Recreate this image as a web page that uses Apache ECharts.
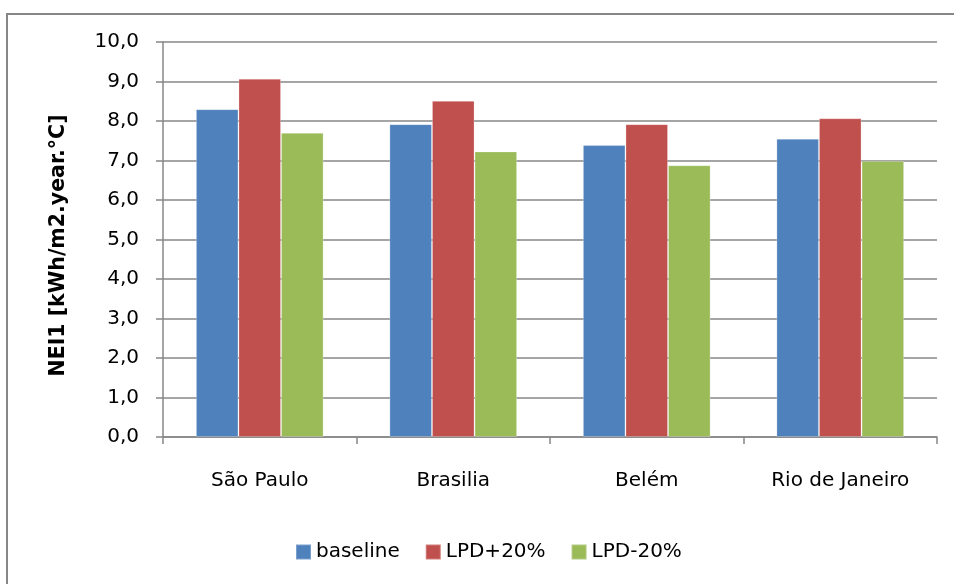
<!DOCTYPE html>
<html>
<head>
<meta charset="utf-8">
<script src="https://cdn.jsdelivr.net/npm/echarts@6/dist/echarts.min.js"></script>
<style>
  html, body { margin: 0; padding: 0; background: #fff; }
  #chart { width: 954px; height: 584px; }
</style>
</head>
<body>
<div id="chart"></div>
<script>
// Cities on the category axis
const cities = ['São Paulo', 'Brasilia', 'Belém', 'Rio de Janeiro'];

// NEI1 per lighting-power-density scenario
const baseline = [8.30, 7.92, 7.39, 7.55];
const lpdPlus20 = [9.07, 8.51, 7.92, 8.07];
const lpdMinus20 = [7.70, 7.23, 6.88, 6.99];

const seriesNames = ['baseline', 'LPD+20%', 'LPD-20%'];
const seriesColors = ['#4F81BD', '#C0504D', '#9BBB59'];
const seriesData = [baseline, lpdPlus20, lpdMinus20];

const yMin = 0, yMax = 10, yStep = 1;
const yAxisTitle = 'NEI1 [kWh/m2.year.°C]';

const FONT = 'DejaVu Sans';
const GREY = '#878787';

const chart = echarts.init(document.getElementById('chart'), null, { renderer: 'canvas' });

chart.setOption({
  backgroundColor: '#ffffff',
  animation: false,
  textStyle: { fontFamily: FONT },
  graphic: [{
    type: 'rect',
    shape: { x: 7, y: 14, width: 1000, height: 1000 },
    style: { fill: 'none', stroke: GREY, lineWidth: 2 },
    silent: true
  }],
  grid: { left: 163, right: 17, top: 42, bottom: 147, containLabel: false },
  legend: {
    left: 290,
    top: 537,
    itemWidth: 15,
    itemHeight: 15,
    itemGap: 25,
    icon: 'rect',
    textStyle: { fontFamily: FONT, fontSize: 20, color: '#000' },
    data: seriesNames
  },
  xAxis: {
    type: 'category',
    data: cities,
    boundaryGap: true,
    axisLine: { lineStyle: { color: GREY, width: 1.5 } },
    axisTick: { show: true, alignWithLabel: false, length: 7, lineStyle: { color: GREY, width: 1.5 } },
    axisLabel: { color: '#000', fontFamily: FONT, fontSize: 20, margin: 34 }
  },
  yAxis: {
    type: 'value',
    min: yMin,
    max: yMax,
    interval: yStep,
    name: yAxisTitle,
    nameLocation: 'middle',
    nameGap: 94,
    nameTextStyle: { color: '#000', fontFamily: FONT, fontSize: 20.5, fontWeight: 'bold', padding: [0, 0, 0, -12] },
    axisLine: { show: true, lineStyle: { color: GREY, width: 1.5 } },
    axisTick: { show: true, length: 7, lineStyle: { color: GREY, width: 1.5 } },
    axisLabel: {
      color: '#000', fontFamily: FONT, fontSize: 20, margin: 24,
      formatter: v => v.toFixed(1).replace('.', ',')
    },
    splitLine: { lineStyle: { color: GREY, width: 1.5 } }
  },
  series: seriesData.map((d, i) => ({
    name: seriesNames[i],
    type: 'bar',
    data: d,
    barGap: '0%',
    barCategoryGap: '34%',
    itemStyle: { color: seriesColors[i], borderColor: 'rgba(255,255,255,0.25)', borderWidth: 1 }
  }))
});
</script>
</body>
</html>
